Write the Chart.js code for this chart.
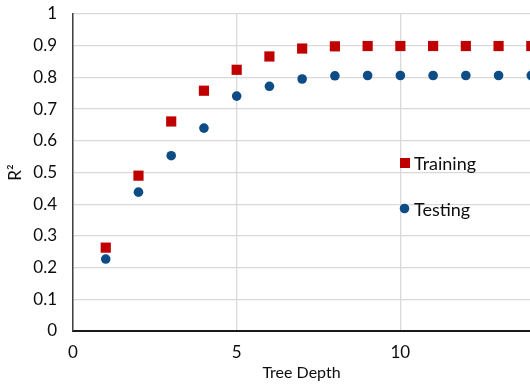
<!DOCTYPE html>
<html lang="en">
<head>
    <meta charset="UTF-8">
    <title>R2 vs Tree Depth</title>
    <style>
        body {
            margin: 0;
            padding: 0;
            background: white;
        }

        .wrap {
            width: 530px;
            height: 385px;
        }
    </style>
    <script src="https://cdn.jsdelivr.net/npm/chart.js"></script>
</head>
<body>
    <div class="wrap">
        <canvas id="myChart" width="530" height="385"></canvas>
    </div>
    <script>
        // Datos
        const depths = [1, 2, 3, 4, 5, 6, 7, 8, 9, 10, 11, 12, 13, 14];
        const training = [0.263, 0.490, 0.661, 0.758, 0.824, 0.866, 0.891, 0.898, 0.899, 0.899, 0.899, 0.899, 0.899, 0.899];
        const testing = [0.227, 0.438, 0.553, 0.640, 0.741, 0.772, 0.795, 0.805, 0.806, 0.806, 0.806, 0.806, 0.806, 0.806];
        const seriesNames = ['Training', 'Testing'];

        const red = '#C00000';
        const blue = '#0E4C86';
        const font = 'Lato';
        const textColor = '#0d0d0d';

        // Leyenda dentro del área del gráfico
        const insideLegend = {
            id: 'insideLegend',
            afterDraw(chart) {
                const ctx = chart.ctx;
                ctx.save();
                ctx.fillStyle = red;
                ctx.fillRect(400, 158, 10, 10);
                ctx.fillStyle = blue;
                ctx.beginPath();
                ctx.arc(404.5, 208.5, 4.8, 0, Math.PI * 2);
                ctx.fill();
                ctx.fillStyle = textColor;
                ctx.font = '18px ' + font;
                ctx.textBaseline = 'middle';
                ctx.fillText(seriesNames[0], 414, 164);
                ctx.fillText(seriesNames[1], 414, 210);
                ctx.restore();
            }
        };

        const ctx = document.getElementById('myChart').getContext('2d');
        const myChart = new Chart(ctx, {
            type: 'scatter',
            data: {
                datasets: [
                    {
                        label: seriesNames[0],
                        data: depths.map((d, i) => ({ x: d, y: training[i] })),
                        backgroundColor: red,
                        borderColor: red,
                        borderWidth: 0,
                        pointStyle: 'rect',
                        pointRadius: 7.2,
                        pointHoverRadius: 12,
                        clip: false
                    },
                    {
                        label: seriesNames[1],
                        data: depths.map((d, i) => ({ x: d, y: testing[i] })),
                        backgroundColor: blue,
                        borderColor: blue,
                        borderWidth: 0,
                        pointStyle: 'circle',
                        pointRadius: 4.8,
                        pointHoverRadius: 12,
                        clip: false
                    }
                ]
            },
            options: {
                responsive: false,
                animation: false,
                events: [],
                layout: {
                    autoPadding: false,
                    padding: { top: 14, right: 0, left: 0, bottom: 0 }
                },
                plugins: {
                    legend: { display: false },
                    tooltip: { enabled: false }
                },
                scales: {
                    x: {
                        type: 'linear',
                        min: 0,
                        max: 13.96,
                        afterFit: s => {
                            s.height = 54;
                            s.paddingLeft = 0;
                            s.paddingRight = 0;
                        },
                        ticks: {
                            stepSize: 5,
                            includeBounds: false,
                            padding: 11,
                            color: textColor,
                            font: { family: font, size: 17 }
                        },
                        grid: {
                            color: '#d9d9d9',
                            lineWidth: 1.3,
                            drawTicks: false
                        },
                        border: { color: '#1a1a1a', width: 2 },
                        title: {
                            display: true,
                            text: 'Tree Depth',
                            color: textColor,
                            font: { family: font, size: 16 },
                            padding: { top: 0, bottom: 3 }
                        }
                    },
                    y: {
                        min: 0,
                        max: 1,
                        afterFit: s => {
                            s.width = 73;
                            s.paddingTop = 0;
                            s.paddingBottom = 0;
                        },
                        ticks: {
                            stepSize: 0.1,
                            padding: 16,
                            color: textColor,
                            font: { family: font, size: 17 },
                            callback: v => Math.round(v * 10) / 10
                        },
                        grid: {
                            color: '#d9d9d9',
                            lineWidth: 1.3,
                            drawTicks: false
                        },
                        border: { color: '#404040', width: 1.5 },
                        title: {
                            display: true,
                            text: 'R²',
                            color: textColor,
                            font: { family: font, size: 17 },
                            padding: { top: 5, bottom: 0 }
                        }
                    }
                }
            },
            plugins: [insideLegend]
        });
    </script>
</body>
</html>
